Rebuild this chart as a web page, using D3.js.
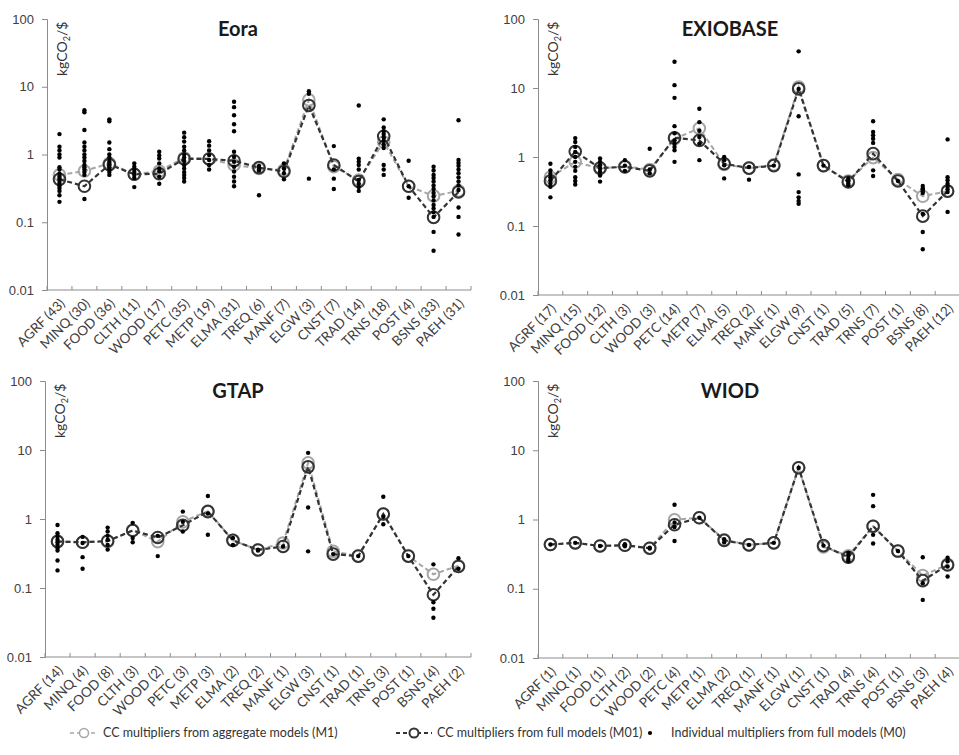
<!DOCTYPE html>
<html>
<head>
<meta charset="utf-8">
<script src="https://cdn.jsdelivr.net/npm/d3@7"></script>
<style>
  body { margin: 0; background: #fff; }
  svg { font-family: Lato, "Open Sans", sans-serif; }
</style>
</head>
<body>
<div id="chart"></div>
<script>
// sectors shared by all four panels
const sectors = ["AGRF", "MINQ", "FOOD", "CLTH", "WOOD", "PETC", "METP", "ELMA", "TREQ",
  "MANF", "ELGW", "CNST", "TRAD", "TRNS", "POST", "BSNS", "PAEH"];
const yTicks = [0.01, 0.1, 1, 10, 100];

// Eora
const eoraCounts = [43, 30, 36, 11, 17, 35, 19, 31, 6, 7, 3, 7, 14, 18, 4, 33, 31];
const eoraM1 = [0.50, 0.57, 0.74, 0.51, 0.57, 0.89, 0.86, 0.70, 0.62, 0.59, 6.4, 0.66, 0.42, 1.53, 0.34, 0.245, 0.29];
const eoraM01 = [0.43, 0.34, 0.71, 0.51, 0.52, 0.86, 0.86, 0.81, 0.64, 0.56, 5.3, 0.70, 0.40, 1.86, 0.34, 0.118, 0.28];
const eoraM0 = [
  [2.0, 1.3, 1.15, 1.0, 0.9, 0.65, 0.6, 0.52, 0.48, 0.45, 0.42, 0.38, 0.35, 0.32, 0.29, 0.25, 0.2],
  [4.5, 4.2, 2.3, 1.5, 1.3, 1.15, 1.0, 0.9, 0.8, 0.7, 0.65, 0.6, 0.55, 0.5, 0.22],
  [3.3, 3.1, 1.5, 1.2, 1.0, 0.9, 0.8, 0.75, 0.7, 0.65, 0.6, 0.55, 0.5],
  [0.74, 0.66, 0.6, 0.55, 0.5, 0.45, 0.33],
  [1.1, 0.97, 0.87, 0.74, 0.62, 0.56, 0.47, 0.37],
  [2.1, 1.8, 1.55, 1.3, 1.15, 1.0, 0.9, 0.8, 0.7, 0.62, 0.55, 0.5, 0.45, 0.4],
  [1.57, 1.35, 1.15, 0.98, 0.83, 0.7, 0.6],
  [6.0, 5.0, 3.8, 2.8, 2.2, 1.1, 0.92, 0.78, 0.66, 0.56, 0.47, 0.4, 0.34],
  [0.68, 0.64, 0.6, 0.58, 0.25],
  [0.74, 0.62, 0.53, 0.43],
  [8.6, 7.9, 0.44],
  [1.33, 0.6, 0.44, 0.31],
  [5.3, 0.87, 0.78, 0.7, 0.6, 0.42, 0.37, 0.33, 0.29],
  [3.3, 2.5, 2.2, 2.0, 1.8, 1.6, 1.4, 1.25, 0.7, 0.6, 0.5],
  [0.81, 0.34, 0.23],
  [0.66, 0.58, 0.5, 0.45, 0.4, 0.35, 0.31, 0.27, 0.24, 0.21, 0.18, 0.16, 0.14, 0.12, 0.072, 0.038],
  [3.2, 0.83, 0.75, 0.68, 0.6, 0.53, 0.46, 0.4, 0.35, 0.3, 0.165, 0.12, 0.066]
];

// EXIOBASE
const exioCounts = [17, 15, 12, 3, 3, 14, 7, 5, 2, 1, 9, 1, 5, 7, 1, 8, 12];
const exioM1 = [0.51, 0.85, 0.68, 0.73, 0.66, 1.84, 2.6, 0.78, 0.69, 0.77, 10.3, 0.75, 0.45, 0.98, 0.47, 0.27, 0.32];
const exioM01 = [0.45, 1.2, 0.69, 0.72, 0.63, 1.9, 1.74, 0.8, 0.69, 0.75, 9.7, 0.75, 0.435, 1.12, 0.45, 0.139, 0.32];
const exioM0 = [
  [0.8, 0.64, 0.57, 0.51, 0.46, 0.41, 0.37, 0.26],
  [1.88, 1.65, 1.4, 1.18, 1.0, 0.85, 0.72, 0.63, 0.51, 0.45, 0.4],
  [0.95, 0.85, 0.76, 0.68, 0.61, 0.54, 0.44],
  [0.9, 0.75, 0.63],
  [1.32, 0.66, 0.58],
  [24, 11, 7.2, 2.8, 2.2, 1.75, 1.55, 1.4, 1.25, 0.85],
  [5.0, 3.2, 2.4, 1.95, 1.56, 0.9],
  [1.0, 0.9, 0.76, 0.49],
  [0.72, 0.47],
  [0.75],
  [34, 9.7, 3.9, 0.56, 0.31, 0.26, 0.23, 0.21],
  [0.75],
  [0.49, 0.46, 0.44, 0.41, 0.39],
  [3.3, 2.3, 2.06, 1.84, 1.6, 0.64, 0.53],
  [0.45],
  [0.38, 0.35, 0.34, 0.32, 0.3, 0.15, 0.082, 0.046],
  [1.8, 0.51, 0.46, 0.41, 0.37, 0.34, 0.31, 0.16]
];

// GTAP
const gtapCounts = [14, 4, 8, 3, 2, 3, 3, 2, 2, 1, 3, 1, 1, 3, 1, 4, 2];
const gtapM1 = [0.48, 0.46, 0.47, 0.69, 0.47, 0.91, 1.3, 0.49, 0.356, 0.45, 6.5, 0.34, 0.29, 1.18, 0.29, 0.158, 0.21];
const gtapM01 = [0.47, 0.46, 0.48, 0.68, 0.54, 0.81, 1.28, 0.49, 0.356, 0.40, 5.7, 0.31, 0.29, 1.18, 0.29, 0.08, 0.205];
const gtapM0 = [
  [0.82, 0.62, 0.56, 0.5, 0.46, 0.42, 0.38, 0.35, 0.25, 0.18],
  [0.55, 0.45, 0.28, 0.19],
  [0.75, 0.66, 0.57, 0.5, 0.42, 0.36],
  [0.88, 0.53, 0.46],
  [0.57, 0.29],
  [1.28, 0.91, 0.66],
  [2.15, 1.2, 0.59],
  [0.53, 0.42],
  [0.36, 0.35],
  [0.4],
  [9.1, 1.47, 0.34],
  [0.31],
  [0.29],
  [2.1, 1.08, 0.84],
  [0.29],
  [0.22, 0.062, 0.05, 0.037],
  [0.27, 0.19]
];

// WIOD
const wiodCounts = [1, 1, 1, 2, 2, 4, 1, 2, 1, 1, 1, 1, 4, 4, 1, 3, 4];
const wiodM1 = [0.435, 0.46, 0.415, 0.425, 0.385, 0.99, 1.06, 0.51, 0.43, 0.46, 5.6, 0.40, 0.30, 0.8, 0.35, 0.155, 0.225];
const wiodM01 = [0.435, 0.46, 0.415, 0.425, 0.385, 0.84, 1.06, 0.50, 0.43, 0.46, 5.6, 0.42, 0.285, 0.8, 0.35, 0.131, 0.22];
const wiodM0 = [
  [0.435],
  [0.46],
  [0.415],
  [0.44, 0.41],
  [0.39, 0.38],
  [1.63, 0.9, 0.78, 0.49],
  [1.06],
  [0.52, 0.47],
  [0.43],
  [0.46],
  [5.6],
  [0.42],
  [0.33, 0.3, 0.27, 0.25],
  [2.27, 1.56, 0.6, 0.45],
  [0.35],
  [0.285, 0.12, 0.069],
  [0.28, 0.25, 0.21, 0.15]
];

const legendLabels = [
  "CC multipliers from aggregate models (M1)",
  "CC multipliers from full models (M01)",
  "Individual multipliers from full models (M0)"
];

// plot boxes for each panel
const panels = [
  {title: "Eora", counts: eoraCounts, m1: eoraM1, m01: eoraM01, m0: eoraM0,
   left: 47, right: 471, top: 19, bottom: 290, titleX: 238, titleY: 36},
  {title: "EXIOBASE", counts: exioCounts, m1: exioM1, m01: exioM01, m0: exioM0,
   left: 538, right: 960, top: 19, bottom: 295, titleX: 730, titleY: 36},
  {title: "GTAP", counts: gtapCounts, m1: gtapM1, m01: gtapM01, m0: gtapM0,
   left: 45, right: 471, top: 381, bottom: 657, titleX: 238, titleY: 398},
  {title: "WIOD", counts: wiodCounts, m1: wiodM1, m01: wiodM01, m0: wiodM0,
   left: 538, right: 960, top: 381, bottom: 658, titleX: 730, titleY: 398}
];

const grayCol = "#a6a6a6";
const darkCol = "#333333";
const axisCol = "#8c8c8c";

const svg = d3.select("#chart")
  .append("svg")
    .attr("width", 959)
    .attr("height", 755);

function drawPanel(p) {
  const g = svg.append("g");

  const x = d3.scaleBand()
    .domain(sectors)
    .range([p.left, p.right])
    .padding(0);
  const cx = function(i) { return x(sectors[i]) + x.bandwidth() / 2; };

  const y = d3.scaleLog()
    .domain([0.01, 100])
    .range([p.bottom, p.top]);

  // y axis
  const yAxis = g.append("g")
    .attr("transform", "translate(" + p.left + ",0)")
    .call(d3.axisLeft(y).tickValues(yTicks).tickSize(5).tickPadding(8)
      .tickFormat(function(d) { return d >= 1 ? d3.format("d")(d) : String(d); }));
  yAxis.select(".domain").attr("stroke", axisCol);
  yAxis.selectAll(".tick line").attr("stroke", axisCol);
  yAxis.selectAll(".tick text")
    .attr("fill", "#404040")
    .attr("font-size", "13px");

  // x axis line with boundary ticks pointing up
  g.append("line")
    .attr("x1", p.left).attr("x2", p.right)
    .attr("y1", p.bottom).attr("y2", p.bottom)
    .attr("stroke", axisCol);
  const bounds = sectors.map(function(s) { return x(s); }).concat([p.right]);
  g.selectAll(".xtick")
    .data(bounds)
    .enter().append("line")
      .attr("x1", function(d) { return d; })
      .attr("x2", function(d) { return d; })
      .attr("y1", p.bottom)
      .attr("y2", p.bottom - 4)
      .attr("stroke", axisCol);

  // category labels
  g.selectAll(".xlab")
    .data(sectors)
    .enter().append("text")
      .attr("transform", function(d, i) {
        return "translate(" + (cx(i) + 3) + "," + (p.bottom + 11) + ")rotate(-45)";
      })
      .attr("text-anchor", "end")
      .attr("dy", "0.35em")
      .attr("font-size", "13.5px")
      .attr("fill", "#404040")
      .text(function(d, i) { return d + " (" + p.counts[i] + ")"; });

  // title
  g.append("text")
    .attr("x", p.titleX)
    .attr("y", p.titleY)
    .attr("text-anchor", "middle")
    .attr("font-size", "20px")
    .attr("font-weight", "bold")
    .attr("fill", "#1a1a1a")
    .text(p.title);

  // unit label
  const unit = g.append("text")
    .attr("transform", "translate(" + (p.left + 20) + "," + (p.top + 57) + ")rotate(-90)")
    .attr("font-size", "14px")
    .attr("fill", "#333");
  unit.append("tspan").text("kgCO");
  unit.append("tspan").attr("font-size", "9px").attr("dy", "3").text("2");
  unit.append("tspan").attr("dy", "-3").text("/$");

  const line = d3.line()
    .x(function(d, i) { return cx(i); })
    .y(function(d) { return y(d); });

  // aggregate models (M1)
  g.append("path")
    .datum(p.m1)
    .attr("d", line)
    .attr("fill", "none")
    .attr("stroke", grayCol)
    .attr("stroke-width", 2)
    .attr("stroke-dasharray", "5,3");
  g.selectAll(".m1")
    .data(p.m1)
    .enter().append("circle")
      .attr("cx", function(d, i) { return cx(i); })
      .attr("cy", function(d) { return y(d); })
      .attr("r", 5.8)
      .attr("fill", "none")
      .attr("stroke", grayCol)
      .attr("stroke-width", 2);

  // full models (M01)
  g.append("path")
    .datum(p.m01)
    .attr("d", line)
    .attr("fill", "none")
    .attr("stroke", darkCol)
    .attr("stroke-width", 2.2)
    .attr("stroke-dasharray", "5,3");
  g.selectAll(".m01")
    .data(p.m01)
    .enter().append("circle")
      .attr("cx", function(d, i) { return cx(i); })
      .attr("cy", function(d) { return y(d); })
      .attr("r", 5.8)
      .attr("fill", "none")
      .attr("stroke", darkCol)
      .attr("stroke-width", 2);

  // individual multipliers (M0)
  const pts = [];
  p.m0.forEach(function(vals, i) {
    vals.forEach(function(v) { pts.push({i: i, v: v}); });
  });
  g.selectAll(".m0")
    .data(pts)
    .enter().append("circle")
      .attr("cx", function(d) { return cx(d.i); })
      .attr("cy", function(d) { return y(d.v); })
      .attr("r", 2.2)
      .attr("fill", "#000");
}

panels.forEach(drawPanel);

// legend
const legY = 733;
const leg = svg.append("g").attr("font-size", "12.5px").attr("fill", "#333");

leg.append("line")
  .attr("x1", 70).attr("x2", 98).attr("y1", legY).attr("y2", legY)
  .attr("stroke", grayCol).attr("stroke-width", 1.5).attr("stroke-dasharray", "4,3");
leg.append("circle")
  .attr("cx", 84).attr("cy", legY).attr("r", 4.5)
  .attr("fill", "#fff").attr("stroke", grayCol).attr("stroke-width", 1.5);
leg.append("text").attr("x", 103).attr("y", legY).attr("dy", "0.35em").text(legendLabels[0]);

leg.append("line")
  .attr("x1", 396).attr("x2", 432).attr("y1", legY).attr("y2", legY)
  .attr("stroke", darkCol).attr("stroke-width", 2).attr("stroke-dasharray", "4,3");
leg.append("circle")
  .attr("cx", 414).attr("cy", legY).attr("r", 4.5)
  .attr("fill", "#fff").attr("stroke", darkCol).attr("stroke-width", 2);
leg.append("text").attr("x", 437).attr("y", legY).attr("dy", "0.35em").text(legendLabels[1]);

leg.append("circle")
  .attr("cx", 650).attr("cy", legY).attr("r", 2.1).attr("fill", "#000");
leg.append("text").attr("x", 671).attr("y", legY).attr("dy", "0.35em").text(legendLabels[2]);
</script>
</body>
</html>
